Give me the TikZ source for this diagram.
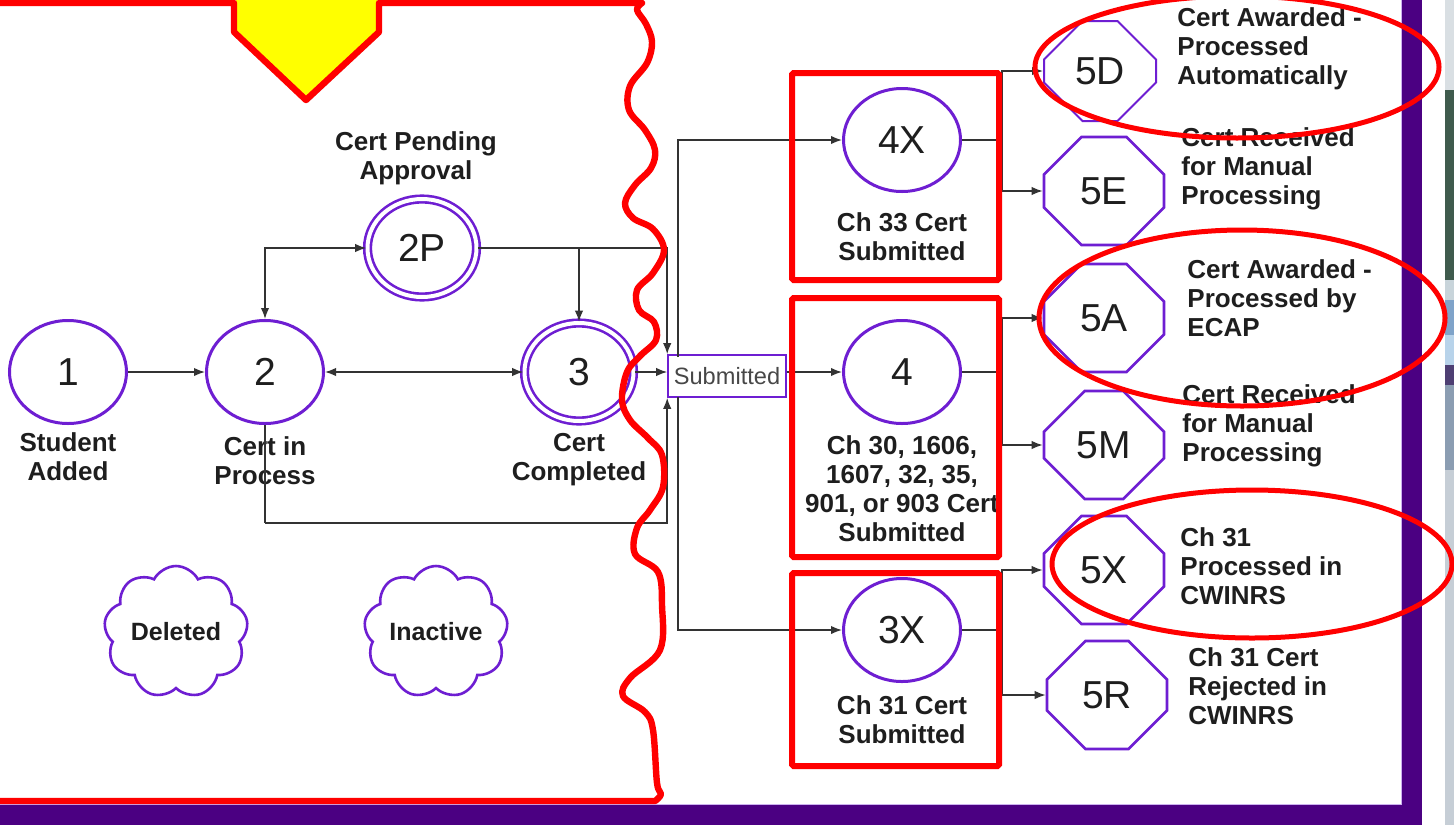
\documentclass[tikz,border=0pt]{standalone}
\usepackage{fontspec}
\setmainfont{Liberation Sans}
\usetikzlibrary{shapes.geometric,shapes.misc,shapes.symbols,arrows.meta}
\definecolor{vio}{HTML}{6E1ED2}
\definecolor{indig}{HTML}{4B0082}
\definecolor{lin}{HTML}{333333}
\definecolor{txt}{HTML}{1E1E1E}
\definecolor{yel}{HTML}{FFFF00}
\definecolor{rd}{HTML}{FF0000}
\definecolor{sA}{HTML}{D9DFE3}
\definecolor{sB}{HTML}{3F5B4D}
\definecolor{sC}{HTML}{C8D4DA}
\definecolor{sD}{HTML}{7FA3C9}
\definecolor{sE}{HTML}{B8D3EA}
\definecolor{sF}{HTML}{4E3F73}
\definecolor{sG}{HTML}{8B9DB2}
\definecolor{sH}{HTML}{C6CED6}
\tikzset{
  st/.style={ellipse, draw=vio, line width=1.5pt, minimum width=58.5pt, minimum height=51.5pt,
    inner sep=0pt, font=\fontsize{19.5}{20}\selectfont, text=txt},
  dst/.style={st, double=white, double distance=2pt, line width=1.3pt,
    minimum width=54.5pt, minimum height=49pt},
  oct/.style={chamfered rectangle, chamfered rectangle xsep=17pt, chamfered rectangle ysep=14pt,
    draw=vio, line width=1.3pt, minimum width=60pt, minimum height=54pt, inner sep=0pt,
    font=\fontsize{19.5}{20}\selectfont, text=txt},
  lbl/.style={font=\fontsize{13}{14.5}\selectfont\bfseries, align=center, text=txt, inner sep=0pt},
  rl/.style={lbl, align=left, anchor=west},
  conn/.style={draw=lin, line width=0.75pt},
  arr/.style={conn, -{Latex[length=5.5pt,width=4.2pt]}},
  darr/.style={conn, {Latex[length=5.5pt,width=4.2pt]}-{Latex[length=5.5pt,width=4.2pt]}},
  cld/.style={cloud, cloud puffs=9, cloud puff arc=125, cloud ignores aspect, draw=vio, line width=1.3pt,
    minimum width=72pt, minimum height=66pt, inner sep=0pt,
    font=\fontsize{12.5}{14}\selectfont\bfseries, text=txt},
  subbox/.style={rectangle, draw=vio, line width=0.8pt, minimum width=59pt, minimum height=21pt,
    inner sep=0pt, font=\fontsize{11.8}{12}\selectfont, text=black!72},
  rshadow/.style={preaction={draw=black!45, opacity=0.35, transform canvas={shift={(1pt,-1pt)}}}},
  redline/.style={draw=rd, line width=3.2pt, line join=round, line cap=round, rshadow},
  redbox/.style={draw=rd, line width=3pt, rounded corners=0.8pt, rshadow},
  redell/.style={draw=rd, line width=2.5pt}
}
\begin{document}
\begin{tikzpicture}[x=0.5pt,y=-0.5pt]
\useasboundingbox (0,0) rectangle (1454,825);
\fill[white] (0,0) rectangle (1454,825);
% screenshot strip at right edge
\fill[sA] (1445,0) rectangle (1454,90);
\fill[sB] (1445,90) rectangle (1454,280);
\fill[sC] (1445,280) rectangle (1454,300);
\fill[sD] (1445,300) rectangle (1454,335);
\fill[sE] (1445,335) rectangle (1454,365);
\fill[sF] (1445,365) rectangle (1454,385);
\fill[sG] (1445,385) rectangle (1454,470);
\fill[sH] (1445,470) rectangle (1454,825);
% purple frame
\fill[indig] (1402,0) rectangle (1422,825);
\fill[indig] (0,805) rectangle (1422,825);
\draw[vio!35, line width=0.5pt] (0,804.5) -- (1401.5,804.5) -- (1401.5,0);

% left states
\node[st] (n1) at (68,372) {1};
\node[st] (n2) at (265,372) {2};
\node[dst] (n2P) at (422,248) {2P};
\node[dst] (n3) at (579,372) {3};
\node[subbox] (sub) at (727,376) {Submitted};

\node[lbl] (l1) at (68,457) {Student\\Added};
\node[lbl] (l2) at (265,461) {Cert in\\Process};
\node[lbl] (l2P) at (416,158) {Cert Pending\\Approval};
\node[lbl] (l3) at (579,460) {Cert\\Completed};

\node[cld] (del) at (176,632) {Deleted};
\node[cld] (ina) at (436,632) {Inactive};

% right states
\node[st] (n4X) at (902,140) {4X};
\node[st] (n4) at (902,372) {4};
\node[st] (n3X) at (902,630) {3X};
\node[lbl] (l4X) at (902,237) {Ch 33 Cert\\Submitted};
\node[lbl] (l4) at (902,489) {Ch 30, 1606,\\1607, 32, 35,\\901, or 903 Cert\\Submitted};
\node[lbl] (l3X) at (902,720) {Ch 31 Cert\\Submitted};

\node[oct, line width=1pt, minimum width=56pt, minimum height=50pt, chamfered rectangle xsep=16pt, chamfered rectangle ysep=13pt] (n5D) at (1100,71) {5D};
\node[oct] (n5E) at (1104,191) {5E};
\node[oct] (n5A) at (1104,318) {5A};
\node[oct] (n5M) at (1104,445) {5M};
\node[oct] (n5X) at (1104,570) {5X};
\node[oct] (n5R) at (1107,695) {5R};

\node[rl] (t5D) at (1177,49) {Cert Awarded -\\Processed\\Automatically};
\node[rl] (t5E) at (1181,169) {Cert Received\\for Manual\\Processing};
\node[rl] (t5A) at (1187,298) {Cert Awarded -\\Processed by\\ECAP};
\node[rl] (t5M) at (1182,426) {Cert Received\\for Manual\\Processing};
\node[rl] (t5X) at (1180,566) {Ch 31\\Processed in\\CWINRS};
\node[rl] (t5R) at (1188,686) {Ch 31 Cert\\Rejected in\\CWINRS};

% connectors, left part
\draw[arr] (n1.east) -- (n2.west);
\draw[darr] (n2.east) -- (n3.west);
\draw[darr] (n2.north) |- (n2P.west);
\draw[arr] (n2P.east) -| (sub.north west);
\coordinate (b3) at (n2P.east -| n3.north);
\draw[arr] (b3) -- (n3.north);
\coordinate (lo) at (265,523);
\draw[conn] (n2.south) -- (lo);
\draw[arr] (lo) -| (sub.south west);
\draw[arr] (n3.east) -- (n3.east -| sub.west);

% Submitted to right states
\coordinate (trT) at (678,357);
\coordinate (trB) at (678,397);
\draw[arr] (trT) |- (n4X.west);
\draw[arr] (trB) |- (n3X.west);
\draw[arr] (sub.east |- n4.west) -- (n4.west);

% forks to final states
\coordinate (f1) at (1002,140);
\coordinate (f2) at (1002,372);
\coordinate (f3) at (1002,630);
\draw[conn] (n4X.east) -- (f1);
\draw[arr] (f1) |- (n5D.west);
\draw[arr] (f1) |- (n5E.west);
\draw[conn] (n4.east) -- (f2);
\draw[arr] (f2) |- (n5A.west);
\draw[arr] (f2) |- (n5M.west);
\draw[conn] (n3X.east) -- (f3);
\draw[arr] (f3) |- (n5X.west);
\draw[arr] (f3) |- (n5R.west);

% red annotations
\fill[yel] (236,0) -- (236,32) -- (306,100) -- (377,32) -- (377,0) -- cycle;
\draw[redline] (0,3) -- (234,3) -- (234,32) -- (306,100) -- (379,32) -- (379,3) -- (642,3)
  -- plot[smooth, tension=0.6] coordinates {(642,3) (637,10) (646,24) (652,42) (647,63) (630,86)
  (629,110) (645,130) (655,150) (651,168) (635,185) (625,203) (633,218) (653,229) (664,250)
  (653,273) (637,290) (639,310) (654,322) (656,340) (640,356) (627,372) (622,400) (630,420)
  (648,438) (662,455) (663,487) (650,510) (637,528) (635,554) (658,572) (662,605) (660,650)
  (630,678) (623,696) (645,712) (653,730) (657,783) (661,794) (655,801)}
  -- (0,801);
\draw[redbox] (792,73) rectangle (999,280);
\draw[redbox] (792,298) rectangle (999,557);
\draw[redbox] (792,573) rectangle (999,766);
\draw[redell] (1237,67) ellipse [x radius=101pt, y radius=35.5pt];
\draw[redell] (1242,318) ellipse [x radius=101.5pt, y radius=44pt];
\draw[redell] (1252,564) ellipse [x radius=100pt, y radius=37pt];
\end{tikzpicture}
\end{document}
